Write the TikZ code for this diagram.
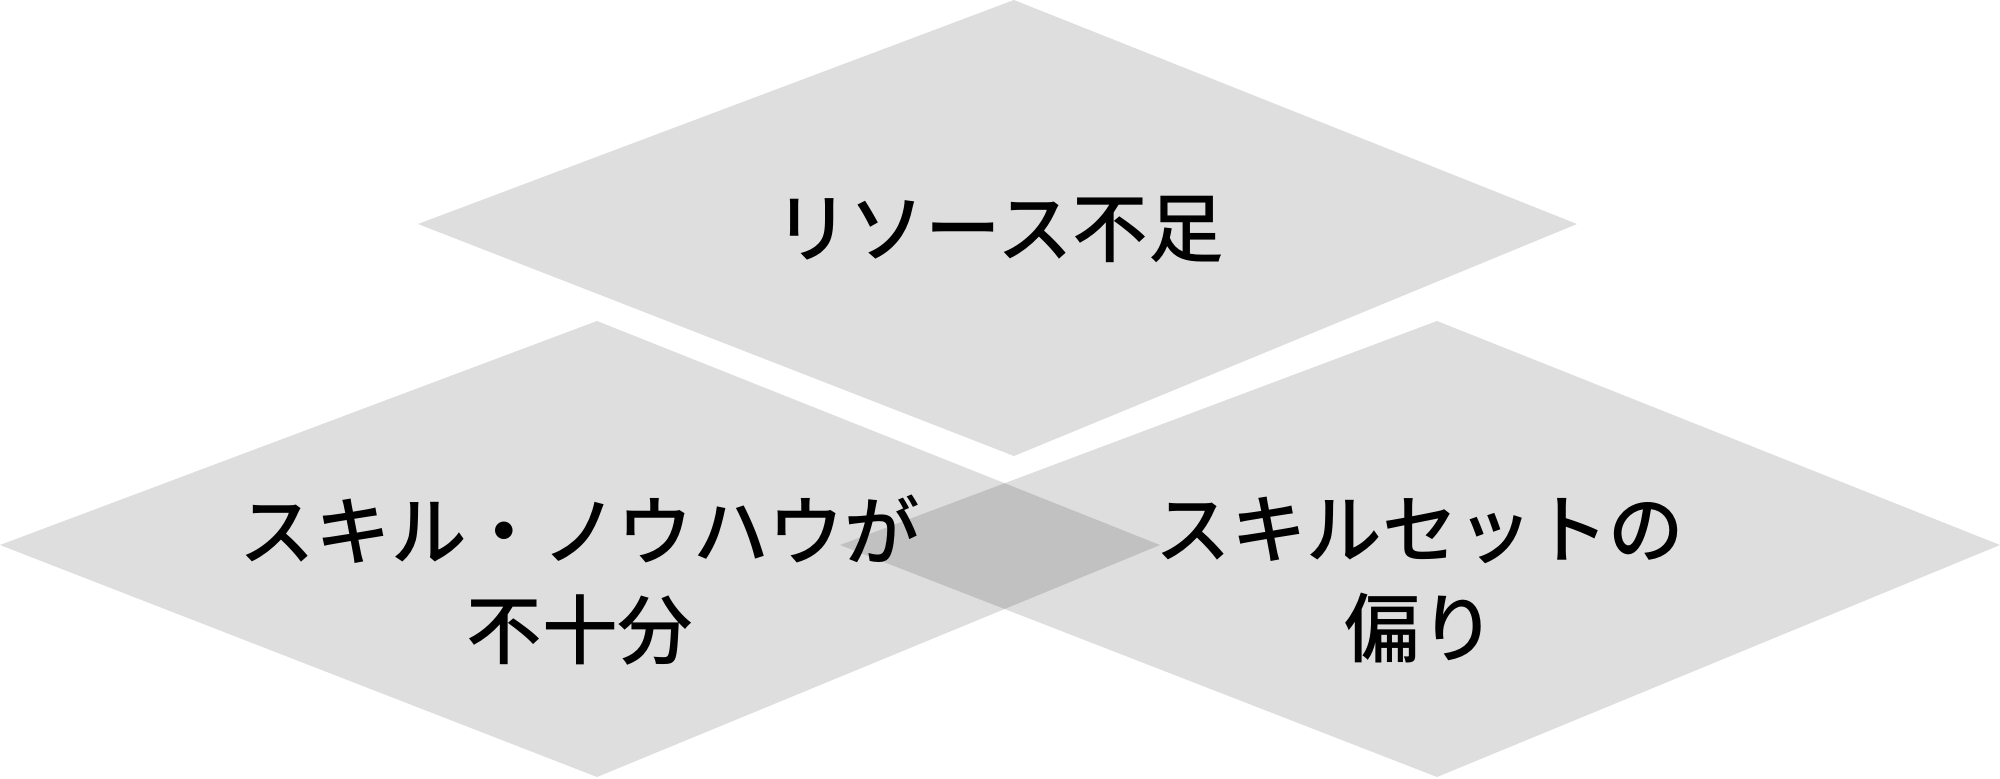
\documentclass[tikz,border=0pt]{standalone}
\usepackage{fontspec}
\newfontfamily\jpfont{Noto Sans CJK JP}[UprightFont={* Medium}]
\begin{document}
\begin{tikzpicture}[x=0.1mm, y=-0.1mm,
  kite/.style={fill=black, fill opacity=0.13},
  cause/.style={font=\jpfont\fontsize{21.5pt}{28pt}\selectfont, align=center, inner sep=0pt}]
\useasboundingbox (0,0) rectangle (2000,778);
\fill[kite] (418,224) -- (1014,0) -- (1577,224) -- (1014,456) -- cycle;
\foreach \dx in {0,840}{
  \fill[kite] (\dx,545) -- ++(597,-224) -- ++(563,224) -- ++(-563,232) -- cycle;
}
\draw
(999,229) node [cause] (resource) {リソース不足}
(580,580) node [cause] (knowhow) {スキル・ノウハウが\\不十分}
(1420,580) node [cause] (skillset) {スキルセットの\\偏り};
\end{tikzpicture}
\end{document}
